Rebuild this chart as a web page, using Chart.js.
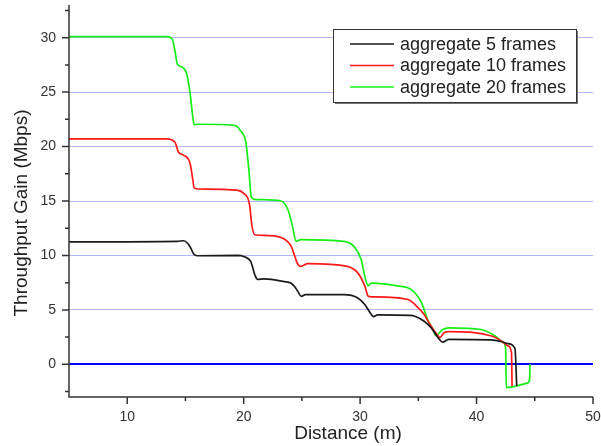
<!DOCTYPE html>
<html>
<head>
<meta charset="utf-8">
<title>Throughput Gain vs Distance</title>
<script src="https://cdn.jsdelivr.net/npm/chart.js@4.4.1/dist/chart.umd.min.js"></script>
<style>
  html, body { margin: 0; padding: 0; background: #fff; }
  #wrap { width: 601px; height: 446px; }
</style>
</head>
<body>
<div id="wrap"><canvas id="gainChart" width="601" height="446"></canvas></div>
<script>
// series
var seriesLabels = ['aggregate 5 frames', 'aggregate 10 frames', 'aggregate 20 frames'];
var seriesColors = ['#1a1a1a', '#ff1a1a', '#16ee16'];

var dist5 = [5, 14.3, 14.85, 15.2, 15.45, 15.7, 16.0, 19.5, 20.0, 20.6, 21.0, 21.2, 21.75, 23.5, 24.05, 24.4, 24.65, 24.95, 25.3,
             28.6, 29.8, 30.4, 30.95, 31.15, 31.5, 34.3, 34.7, 35.5, 36.1, 36.7, 37.1, 37.6, 41.2, 42.1, 42.7, 43.3, 43.45];
var gain5 = [11.25, 11.3, 11.35, 11.1, 10.7, 10.15, 9.97, 10.0, 9.9, 9.45, 8.1, 7.8, 7.84, 7.6, 7.47, 7.1, 6.7, 6.25, 6.4,
             6.4, 6.1, 5.5, 4.6, 4.38, 4.55, 4.5, 4.42, 3.96, 3.36, 2.44, 2.04, 2.3, 2.25, 2.1, 1.9, 1.45, -2.0];

var dist10 = [5, 13.4, 14.1, 14.4, 14.85, 15.4, 15.6, 15.75, 16.1, 19.4, 20.0, 20.5, 20.7, 20.95, 21.75, 23.2, 24.05, 24.4, 24.6,
              24.9, 25.5, 28.9, 29.8, 30.4, 30.7, 31.0, 34.1, 34.8, 35.5, 36.1, 36.6, 36.85, 37.2, 37.6, 41.3, 42.2, 42.7, 43.0, 43.05];
var gain10 = [20.7, 20.7, 20.4, 19.5, 19.2, 18.45, 17.2, 16.2, 16.1, 16.0, 15.7, 14.7, 12.8, 11.9, 11.85, 11.65, 10.9, 9.9, 9.3,
              9.0, 9.25, 9.0, 8.4, 7.2, 6.25, 6.2, 5.95, 5.4, 4.57, 3.5, 2.74, 2.45, 2.9, 3.0, 2.6, 2.1, 1.7, 1.07, -2.0];

var dist20 = [5, 13.4, 13.85, 14.1, 14.3, 14.7, 15.1, 15.4, 15.6, 15.75, 16.0, 19.2, 19.7, 20.2, 20.45, 20.65, 20.9, 23.2, 23.8,
              24.2, 24.5, 24.9, 28.6, 29.5, 30.1, 30.4, 30.7, 30.95, 33.2, 34.4, 35.3, 35.8, 36.3, 36.5, 37.1, 37.6, 40.4, 41.6,
              42.3, 42.5, 42.55, 44.4, 44.55, 44.6];
var gain20 = [30.1, 30.1, 29.9, 28.8, 27.6, 27.3, 26.7, 24.9, 23.0, 22.0, 22.05, 21.95, 21.5, 20.3, 17.8, 15.4, 15.15, 15.0, 14.2,
              12.65, 11.3, 11.45, 11.3, 10.8, 9.6, 8.1, 7.2, 7.45, 7.2, 6.86, 5.6, 4.1, 3.1, 2.65, 3.2, 3.35, 3.2, 2.6,
              2.0, 1.4, -2.13, -1.7, -1.37, 0];

var xTicks = [10, 15, 20, 25, 30, 35, 40, 45, 50];
var yTicks = [-2.5, 0, 2.5, 5, 7.5, 10, 12.5, 15, 17.5, 20, 22.5, 25, 27.5, 30, 32.5];

var labelFont = '"Liberation Sans", Arial, sans-serif';

function toPoints(xs, ys) {
    return xs.map(function (x, i) { return { x: x, y: ys[i] }; });
}

function isMajor(v) { return Math.abs(v % 5) < 1e-9; }

var axisDecor = {
    id: 'axisDecor',
    afterDraw: function (chart) {
        var ctx = chart.ctx, area = chart.chartArea;
        var xs = chart.scales.x, ys = chart.scales.y;
        ctx.save();
        ctx.strokeStyle = '#333';
        ctx.lineWidth = 1.5;
        ctx.beginPath();
        ctx.moveTo(area.left, area.top);
        ctx.lineTo(area.left, area.bottom);
        ctx.lineTo(area.right, area.bottom);
        yTicks.forEach(function (v) {
            var py = ys.getPixelForValue(v);
            var len = isMajor(v) ? 7 : 4;
            ctx.moveTo(area.left - len, py);
            ctx.lineTo(area.left, py);
        });
        xTicks.forEach(function (v) {
            var px = xs.getPixelForValue(v);
            var len = v % 10 === 0 ? 7 : 4;
            ctx.moveTo(px, area.bottom);
            ctx.lineTo(px, area.bottom + len);
        });
        ctx.stroke();

        // axis titles
        ctx.fillStyle = '#222';
        ctx.font = '19px ' + labelFont;
        ctx.textAlign = 'center';
        ctx.textBaseline = 'middle';
        ctx.fillText('Distance (m)', (area.left + area.right) / 2 + 17, area.bottom + 37);
        ctx.translate(22, (area.top + area.bottom) / 2 + 12);
        ctx.rotate(-Math.PI / 2);
        ctx.fillText('Throughput Gain (Mbps)', 0, 0);
        ctx.restore();

        drawLegend(chart);
    }
};

function drawLegend(chart) {
    var ctx = chart.ctx, area = chart.chartArea;
    var bx = area.right - 260, by = area.top + 24, bw = 243, bh = 73;
    ctx.save();
    ctx.fillStyle = '#777';
    ctx.fillRect(bx + 2, by + 2, bw, bh);
    ctx.fillStyle = '#fff';
    ctx.fillRect(bx, by, bw, bh);
    ctx.strokeStyle = '#333';
    ctx.lineWidth = 1;
    ctx.strokeRect(bx + 0.5, by + 0.5, bw, bh);
    ctx.font = '18px ' + labelFont;
    ctx.textAlign = 'left';
    ctx.textBaseline = 'middle';
    chart.data.datasets.forEach(function (ds, i) {
        var ry = by + 15 + i * 21.5;
        ctx.strokeStyle = ds.borderColor;
        ctx.lineWidth = 1.6;
        ctx.beginPath();
        ctx.moveTo(bx + 17, ry);
        ctx.lineTo(bx + 61, ry);
        ctx.stroke();
        ctx.fillStyle = '#222';
        ctx.fillText(ds.label, bx + 67, ry + 1);
    });
    ctx.restore();
}

var datasets = [
    { label: seriesLabels[0], data: toPoints(dist5, gain5), borderColor: seriesColors[0] },
    { label: seriesLabels[1], data: toPoints(dist10, gain10), borderColor: seriesColors[1] },
    { label: seriesLabels[2], data: toPoints(dist20, gain20), borderColor: seriesColors[2] }
];

new Chart(document.getElementById('gainChart').getContext('2d'), {
    type: 'line',
    data: { datasets: datasets },
    plugins: [axisDecor],
    options: {
        responsive: false,
        animation: false,
        devicePixelRatio: 1,
        layout: { padding: { top: 5, right: 8, left: 0, bottom: 0 } },
        plugins: { legend: { display: false }, tooltip: { enabled: false } },
        elements: {
            point: { radius: 0 },
            line: { borderWidth: 1.7, cubicInterpolationMode: 'monotone', fill: false }
        },
        scales: {
            x: {
                type: 'linear', min: 5, max: 50,
                afterBuildTicks: function (s) { s.ticks = xTicks.map(function (v) { return { value: v }; }); },
                afterFit: function (s) { s.height = 49; s.paddingLeft = 0; s.paddingRight = 0; },
                grid: { display: false, drawTicks: false },
                border: { display: false },
                ticks: {
                    padding: 12, color: '#333', autoSkip: false, maxRotation: 0,
                    font: { family: labelFont, size: 14 },
                    callback: function (v) { return v % 10 === 0 ? String(v) : ''; }
                }
            },
            y: {
                type: 'linear', min: -3, max: 33,
                afterBuildTicks: function (s) { s.ticks = yTicks.map(function (v) { return { value: v }; }); },
                afterFit: function (s) { s.width = 69; s.paddingTop = 0; s.paddingBottom = 0; },
                grid: {
                    drawTicks: false,
                    color: function (c) {
                        var v = c.tick ? c.tick.value : null;
                        if (v === 0) return '#0000ff';
                        return v !== null && isMajor(v) ? '#b4b4ff' : 'rgba(0,0,0,0)';
                    },
                    lineWidth: function (c) { return c.tick && c.tick.value === 0 ? 2 : 1; }
                },
                border: { display: false },
                ticks: {
                    padding: 13, color: '#333', autoSkip: false,
                    font: { family: labelFont, size: 14 },
                    callback: function (v) { return isMajor(v) ? String(v) : ''; }
                }
            }
        }
    }
});
</script>
</body>
</html>
